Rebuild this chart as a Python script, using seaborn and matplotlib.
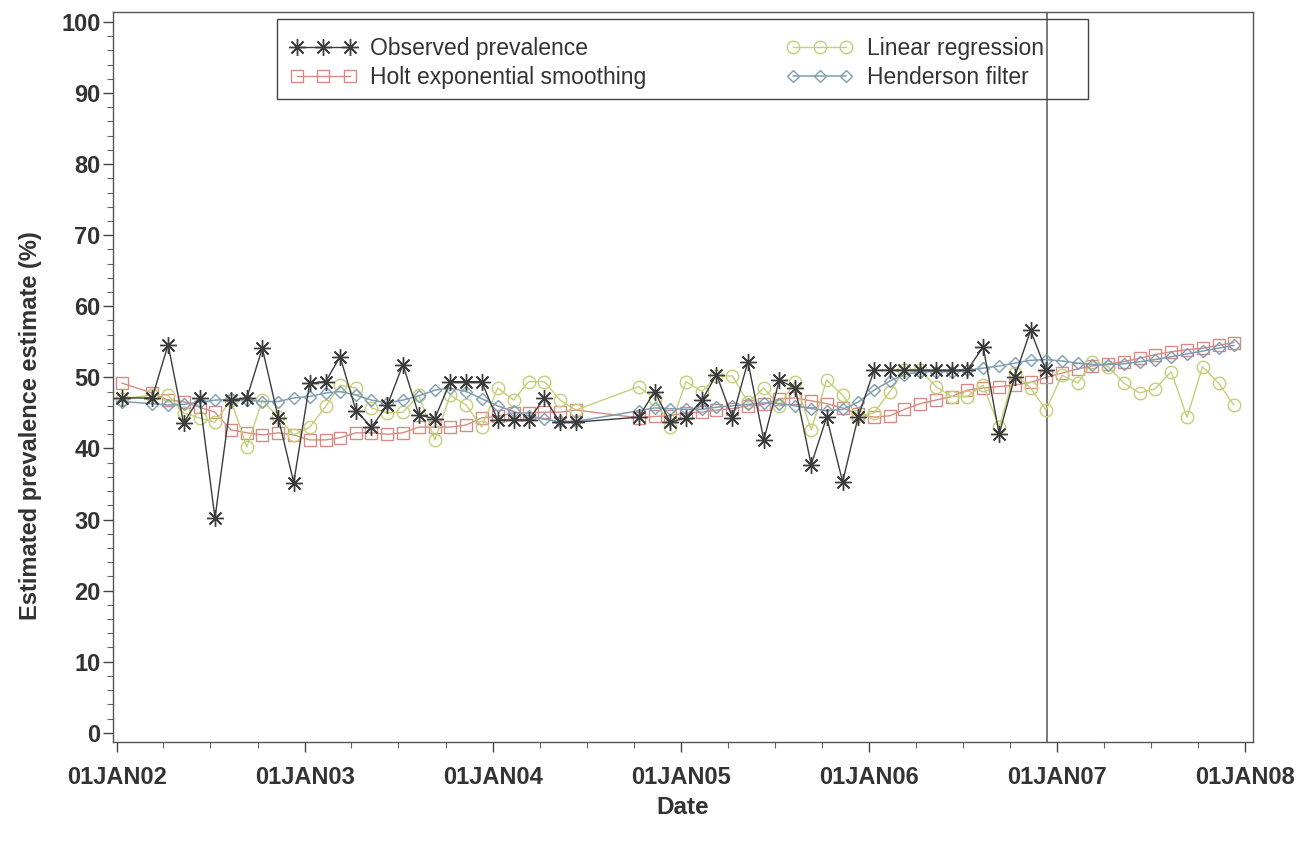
import matplotlib
matplotlib.use("Agg")
import matplotlib.pyplot as plt
import matplotlib.dates as mdates
from matplotlib.patches import Rectangle
import seaborn as sns
import pandas as pd
import numpy as np

# ---------------- data ----------------
obs_dates = [
    "2002-01-10", "2002-03-10", "2002-04-10", "2002-05-10", "2002-06-10", "2002-07-10",
    "2002-08-10", "2002-09-10", "2002-10-10", "2002-11-10", "2002-12-10",
    "2003-01-10", "2003-02-10", "2003-03-10", "2003-04-10", "2003-05-10", "2003-06-10",
    "2003-07-10", "2003-08-10", "2003-09-10", "2003-10-10", "2003-11-10", "2003-12-10",
    "2004-01-10", "2004-02-10", "2004-03-10", "2004-04-10", "2004-05-10", "2004-06-10",
    "2004-10-10", "2004-11-10", "2004-12-10",
    "2005-01-10", "2005-02-10", "2005-03-10", "2005-04-10", "2005-05-10", "2005-06-10",
    "2005-07-10", "2005-08-10", "2005-09-10", "2005-10-10", "2005-11-10", "2005-12-10",
    "2006-01-10", "2006-02-10", "2006-03-10", "2006-04-10", "2006-05-10", "2006-06-10",
    "2006-07-10", "2006-08-10", "2006-09-10", "2006-10-10", "2006-11-10", "2006-12-10",
]
forecast_dates = [
    "2007-01-10", "2007-02-10", "2007-03-10", "2007-04-10", "2007-05-10", "2007-06-10",
    "2007-07-10", "2007-08-10", "2007-09-10", "2007-10-10", "2007-11-10", "2007-12-10",
]
all_dates = obs_dates + forecast_dates

observed = [
    47.1, 47.1, 54.6, 43.6, 47.1, 30.2, 46.8, 47.1, 54.1, 44.3, 35.2,
    49.2, 49.4, 52.9, 45.3, 43.0, 46.1, 51.8, 44.7, 44.2, 49.4, 49.4, 49.4,
    44.0, 44.0, 44.0, 47.1, 43.7, 43.7, 44.4, 48.0, 43.7,
    44.3, 46.8, 50.4, 44.3, 52.2, 41.2, 49.6, 48.5, 37.7, 44.4, 35.3, 44.4,
    51.0, 51.0, 51.0, 51.0, 51.0, 51.0, 51.0, 54.3, 42.0, 50.0, 56.6, 51.0,
]
linear_reg = [
    47.0, 47.5, 47.5, 45.0, 44.3, 43.7, 46.8, 40.2, 46.8, 44.4, 41.9,
    43.0, 45.9, 48.9, 48.5, 45.7, 45.0, 45.1, 47.5, 41.2, 47.5, 46.1, 43.0,
    48.5, 46.8, 49.4, 49.4, 46.8, 45.4, 48.7, 47.0, 43.0,
    49.4, 48.0, 50.2, 50.2, 46.5, 48.5, 46.0, 49.4, 42.6, 49.6, 47.5, 44.5,
    45.0, 48.0, 51.0, 51.0, 48.7, 47.3, 47.3, 48.9, 43.0, 50.6, 48.5, 45.4,
    50.3, 49.2, 52.2, 51.5, 49.2, 47.8, 48.4, 50.8, 44.4, 51.5, 49.2, 46.1,
]
holt = [
    49.2, 47.8, 46.8, 46.6, 45.8, 45.1, 42.6, 42.2, 41.9, 42.2, 41.9,
    41.2, 41.2, 41.5, 42.2, 42.2, 42.0, 42.2, 43.0, 43.0, 43.0, 43.3, 44.3,
    44.5, 45.0, 45.0, 45.1, 45.1, 45.4, 44.3, 44.5, 44.6,
    45.0, 45.1, 45.4, 45.6, 46.0, 46.2, 47.0, 47.1, 46.7, 46.3, 45.7, 44.8,
    44.4, 44.6, 45.5, 46.3, 46.8, 47.3, 48.2, 48.5, 48.7, 48.9, 49.3, 50.0,
    50.6, 51.2, 51.6, 51.9, 52.2, 52.7, 53.2, 53.6, 53.9, 54.1, 54.5, 54.9,
]
henderson = [
    46.6, 46.3, 46.1, 46.2, 46.5, 46.8, 46.9, 46.8, 46.6, 46.6, 47.1,
    47.3, 47.8, 48.0, 47.5, 46.8, 46.4, 46.8, 47.4, 48.2, 48.5, 48.0, 47.0,
    46.0, 45.2, 44.6, 44.1, 43.8, 43.8, 45.3, 45.7, 45.6,
    45.5, 45.5, 45.8, 46.0, 46.2, 46.4, 46.3, 46.0, 45.6, 45.3, 45.5, 46.5,
    48.2, 49.5, 50.4, 50.8, 50.8, 50.8, 51.0, 51.3, 51.6, 52.0, 52.4, 52.5,
    52.3, 52.0, 51.8, 51.8, 51.9, 52.2, 52.5, 52.9, 53.3, 53.7, 54.1, 54.5,
]
year_ticks = ["2002-01-01", "2003-01-01", "2004-01-01", "2005-01-01",
              "2006-01-01", "2007-01-01", "2008-01-01"]
year_labels = ["01JAN02", "01JAN03", "01JAN04", "01JAN05", "01JAN06", "01JAN07", "01JAN08"]
cutoff_date = "2006-12-12"

# ---------------- styling ----------------
sns.set_style("white")
plt.rcParams["font.family"] = ["Liberation Sans", "DejaVu Sans"]

fig = plt.figure(figsize=(13.03, 8.43), dpi=100)
ax = fig.add_axes([113 / 1303, 101 / 843, 1140 / 1303, 730 / 843])

od = pd.to_datetime(obs_dates)
ad = pd.to_datetime(all_dates)

c_obs = "#3c3c3c"
c_holt = "#d68c82"
c_lin = "#c4cf78"
c_hend = "#7f9db3"

sns.lineplot(x=ad, y=holt, ax=ax, color=c_holt, lw=1.0, marker="s",
             markersize=8, markerfacecolor="none", markeredgecolor=c_holt,
             markeredgewidth=1.0, label="Holt exponential smoothing", zorder=2)
sns.lineplot(x=ad, y=linear_reg, ax=ax, color=c_lin, lw=1.0, marker="o",
             markersize=9, markerfacecolor="none", markeredgecolor=c_lin,
             markeredgewidth=1.0, label="Linear regression", zorder=3)
sns.lineplot(x=ad, y=henderson, ax=ax, color=c_hend, lw=1.1, marker="D",
             markersize=6, markerfacecolor="none", markeredgecolor=c_hend,
             markeredgewidth=1.0, label="Henderson filter", zorder=4)
sns.lineplot(x=od, y=observed, ax=ax, color=c_obs, lw=1.0, marker=(8, 2, 0),
             markersize=12, markeredgecolor=c_obs, markeredgewidth=1.0,
             label="Observed prevalence", zorder=5)

ax.axvline(pd.to_datetime(cutoff_date), color="#6e6e6e", lw=1.3, zorder=1)

ax.set_xlim(pd.to_datetime("2001-12-24"), pd.to_datetime("2008-01-16"))
ax.set_ylim(-1.3, 101.4)
ax.set_yticks(np.arange(0, 101, 10))
ax.yaxis.set_minor_locator(matplotlib.ticker.MultipleLocator(2))
ax.set_xticks(pd.to_datetime(year_ticks))
ax.set_xticklabels(year_labels)
ax.xaxis.set_minor_locator(mdates.MonthLocator(bymonth=[4, 7, 10]))

ax.tick_params(axis="both", which="both", bottom=True, left=True, top=False, right=False)
ax.tick_params(axis="both", which="major", direction="out", length=7, width=1,
               color="#444444", labelsize=17, labelcolor="#333333")
ax.tick_params(axis="x", which="major", pad=10)
ax.tick_params(axis="y", which="major", pad=2)
ax.tick_params(axis="both", which="minor", direction="out", length=4, width=0.8,
               color="#666666")
for lab in ax.get_xticklabels() + ax.get_yticklabels():
    lab.set_fontweight("bold")

ax.set_xlabel("Date", fontsize=17.5, fontweight="bold", color="#333333", labelpad=5)
ax.set_ylabel("Estimated prevalence estimate (%)", fontsize=17, fontweight="bold",
              color="#333333")
ax.yaxis.set_label_coords(-0.062, 0.433)

for s in ax.spines.values():
    s.set_visible(True)
    s.set_color("#555555")
    s.set_linewidth(1.0)

handles, labels = ax.get_legend_handles_labels()
order = ["Observed prevalence", "Holt exponential smoothing",
         "Linear regression", "Henderson filter"]
hmap = dict(zip(labels, handles))
leg = ax.legend([hmap[k] for k in order], order, ncol=2, loc="upper left",
                bbox_to_anchor=(0.1553, 0.966), frameon=False, fontsize=16.5,
                numpoints=3, handlelength=2.9, handletextpad=0.6,
                columnspacing=6.1, borderaxespad=0.0, borderpad=0.0,
                labelspacing=0.25)
for t in leg.get_texts():
    t.set_color("#333333")
ax.add_patch(Rectangle((0.1439, 0.881), 0.711, 0.109, transform=ax.transAxes,
                       fill=False, edgecolor="#444444", lw=1.0, zorder=6))

fig.savefig("out.png", dpi=100)
